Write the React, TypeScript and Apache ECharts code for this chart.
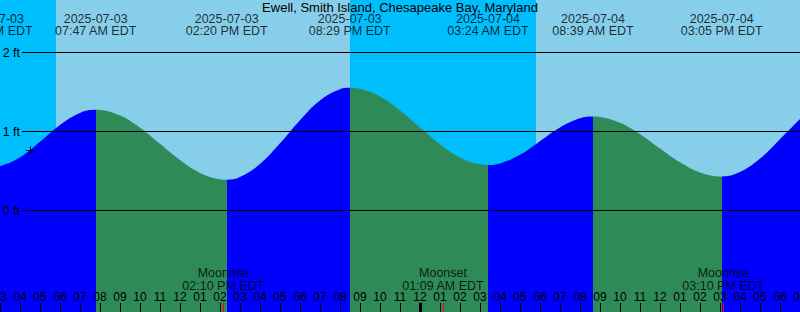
import React, { useEffect, useRef } from "react";
import * as echarts from "echarts";

// Hours are counted from 2025-07-03 00:00 EDT
const TITLE = "Ewell, Smith Island, Chesapeake Bay, Maryland";

const tideHours = [
  2.6, 3, 4, 5, 6, 7, 7.783, 9, 10, 11, 12, 13, 14, 14.333, 15, 16, 17, 18, 19, 20, 20.483,
  21, 22, 23, 24, 25, 26, 27, 27.4, 28, 29, 30, 31, 32, 32.65, 33, 34, 35, 36, 37, 38,
  39.083, 40, 41, 42, 43,
];
const tideLevels = [
  0.55, 0.561, 0.673, 0.87, 1.083, 1.235, 1.275, 1.202, 1.047, 0.844, 0.638, 0.476, 0.395, 0.389,
  0.423, 0.588, 0.851, 1.144, 1.394, 1.535, 1.553, 1.54, 1.442, 1.267, 1.051, 0.839, 0.671,
  0.584, 0.576, 0.596, 0.706, 0.878, 1.052, 1.167, 1.19, 1.184, 1.11, 0.966, 0.785, 0.61, 0.482,
  0.43, 0.486, 0.657, 0.903, 1.158,
];

const eventHours = [2.6, 7.783, 14.333, 20.483, 27.4, 32.65, 39.083];
const eventKinds = ["low", "high", "low", "high", "low", "high", "low"];
const eventDates = [
  "2025-07-03", "2025-07-03", "2025-07-03", "2025-07-03", "2025-07-04", "2025-07-04", "2025-07-04",
];
const eventTimes = [
  "02:36 AM EDT", "07:47 AM EDT", "02:20 PM EDT", "08:29 PM EDT", "03:24 AM EDT", "08:39 AM EDT", "03:05 PM EDT",
];

const moonHours = [14.167, 25.15, 39.167];
const moonNames = ["Moonrise", "Moonset", "Moonrise"];
const moonTimes = ["02:10 PM EDT", "01:09 AM EDT", "03:10 PM EDT"];

const sunriseHours = [5.8, 29.8];
const sunsetHours = [20.5];

const levelLines = [0, 1, 2];
const midnightHours = [24];
const nowHour = 4.525;
const nowLevel = 0.76;

const X_MIN = 3;
const X_MAX = 43;
const Y_MIN = -1.2848;
const Y_MAX = 2.6646;

const FONT = "'Liberation Sans', Arial, sans-serif";
const C_RISE = "#0000ff";
const C_FALL = "#2e8b57";
const C_NIGHT = "#00bfff";
const C_DAY = "#87ceeb";

function hourLabel(v: number): string {
  const hod = ((Math.round(v) % 24) + 24) % 24;
  const h12 = ((hod + 11) % 12) + 1;
  return (h12 < 10 ? "0" : "") + h12;
}

export default function App() {
  const ref = useRef<HTMLDivElement>(null);

  useEffect(() => {
    document.body.style.margin = "0";
    if (!ref.current) return;
    const chart = echarts.init(ref.current, undefined, { renderer: "svg" });

    // sky ranges
    const sunEvents = [
      ...sunriseHours.map((h) => ({ h, day: true })),
      ...sunsetHours.map((h) => ({ h, day: false })),
    ].sort((a, b) => a.h - b.h);
    const skyRanges: any[] = [];
    let start = X_MIN;
    let isDay = !sunEvents[0].day;
    for (const ev of sunEvents) {
      skyRanges.push([
        { xAxis: start, itemStyle: { color: isDay ? C_DAY : C_NIGHT } },
        { xAxis: ev.h },
      ]);
      start = ev.h;
      isDay = ev.day;
    }
    skyRanges.push([{ xAxis: start, itemStyle: { color: isDay ? C_DAY : C_NIGHT } }, { xAxis: X_MAX }]);

    // flood / ebb pieces
    const pieces: any[] = [{ lt: eventHours[0], color: C_FALL }];
    for (let i = 0; i < eventHours.length; i++) {
      const rising = eventKinds[i] === "low";
      const p: any = { color: rising ? C_RISE : C_FALL, gte: eventHours[i] };
      if (i < eventHours.length - 1) p.lt = eventHours[i + 1];
      pieces.push(p);
    }

    const tickTop = Y_MIN + 0.118;
    const markLines: any[] = [
      ...levelLines.map((v) => [
        {
          coord: [X_MIN + 1.1, v],
          lineStyle: { color: "#000", width: 1, type: "solid" },
          label: {
            show: true,
            position: "start",
            distance: 2,
            formatter: v + " ft",
            color: "#000",
            fontSize: 12.5,
            fontFamily: FONT,
          },
        },
        { coord: [X_MAX, v] },
      ]),
      ...midnightHours.map((h) => [
        { coord: [h, Y_MIN], lineStyle: { color: "#000", width: 3, type: "solid" }, label: { show: false } },
        { coord: [h, tickTop] },
      ]),
      ...moonHours.map((h) => [
        { coord: [h, Y_MIN], lineStyle: { color: "#ff0000", width: 1, type: "solid" }, label: { show: false } },
        { coord: [h, tickTop] },
      ]),
    ];

    const labelStyle = {
      show: true,
      position: "inside",
      color: "#000",
      fontSize: 12.5,
      lineHeight: 12,
      fontFamily: FONT,
    };

    chart.setOption({
      animation: false,
      title: {
        text: TITLE,
        left: "center",
        top: 1,
        padding: 0,
        textStyle: { fontSize: 13, fontWeight: "normal", fontFamily: FONT, color: "#000" },
      },
      grid: { left: 0, right: 0, top: 0, bottom: 0, containLabel: false, outerBoundsMode: "none" },
      xAxis: {
        type: "value",
        min: X_MIN,
        max: X_MAX,
        interval: 1,
        z: 10,
        axisLine: { show: false, onZero: false },
        splitLine: { show: false },
        axisTick: { show: true, inside: true, length: 9, lineStyle: { color: "#000", width: 1 } },
        axisLabel: {
          inside: true,
          margin: 9,
          showMinLabel: true,
          showMaxLabel: true,
          formatter: (v: number) => hourLabel(v),
          color: "#000",
          fontSize: 12,
          fontFamily: FONT,
        },
      },
      yAxis: { type: "value", min: Y_MIN, max: Y_MAX, show: false },
      visualMap: {
        type: "piecewise",
        show: false,
        dimension: 0,
        seriesIndex: 1,
        pieces,
      },
      series: [
        {
          type: "line",
          data: [],
          z: 0,
          silent: true,
          markArea: { silent: true, data: skyRanges },
        },
        {
          type: "line",
          z: 2,
          silent: true,
          smooth: 0.4,
          showSymbol: false,
          data: tideHours.map((h, i) => [h, tideLevels[i]]),
          lineStyle: { opacity: 0, width: 0 },
          areaStyle: { origin: "start", opacity: 1 },
        },
        {
          type: "line",
          data: [],
          z: 5,
          silent: true,
          markLine: { silent: true, symbol: ["none", "none"], animation: false, data: markLines },
        },
        {
          type: "scatter",
          silent: true,
          clip: false,
          z: 6,
          symbolSize: 1,
          itemStyle: { color: "rgba(0,0,0,0)" },
          data: eventHours.map((h, i) => ({
            value: [h, (210.5 - 25.2) / 79],
            label: { ...labelStyle, formatter: eventDates[i] + "\n" + eventTimes[i] },
          })),
        },
        {
          type: "scatter",
          silent: true,
          clip: false,
          z: 6,
          symbolSize: 1,
          itemStyle: { color: "rgba(0,0,0,0)" },
          data: moonHours.map((h, i) => ({
            value: [h, (210.5 - 279.3) / 79],
            label: { ...labelStyle, lineHeight: 12.5, formatter: moonNames[i] + "\n" + moonTimes[i] },
          })),
        },
        {
          type: "scatter",
          silent: true,
          z: 7,
          symbol: "path://M0,4H9V5H0Z M4,0H5V9H4Z",
          symbolSize: 9,
          itemStyle: { color: "#000" },
          data: [[nowHour, nowLevel]],
        },
      ],
    });

    return () => chart.dispose();
  }, []);

  return <div ref={ref} style={{ width: 800, height: 312 }} />;
}
